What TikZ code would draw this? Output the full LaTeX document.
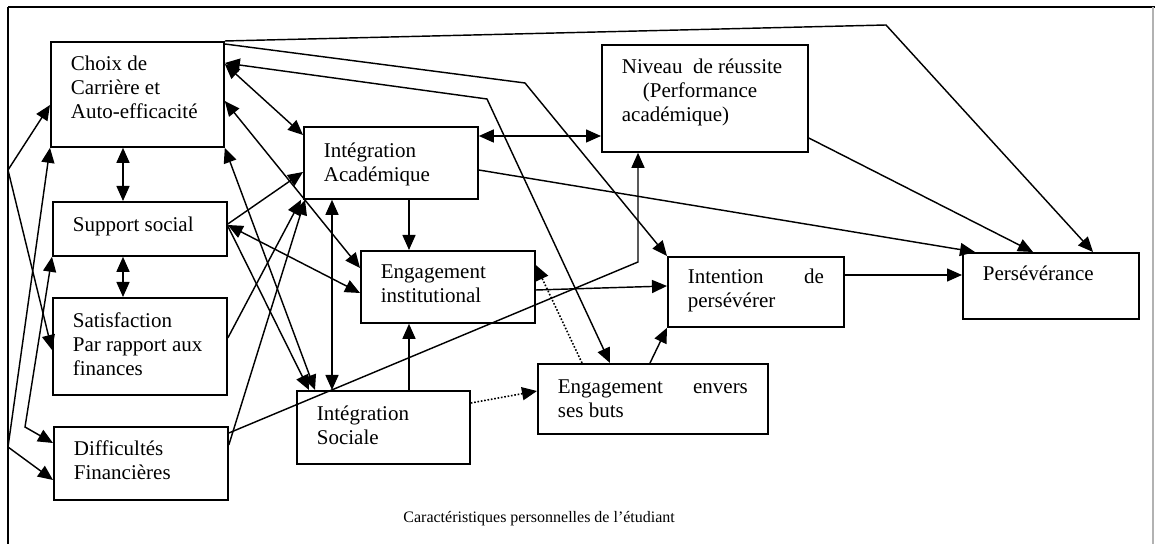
\documentclass[tikz,border=0pt]{standalone}
\usepackage{fontspec}
\setmainfont{Liberation Serif}
\usetikzlibrary{arrows.meta,calc}

% box text: #1 box height, #2 text width, #3 top-to-first-baseline (all in px = 0.5pt), #4 lines
\newcommand\bt[4]{\parbox[c][\dimexpr#1pt/2\relax][t]{\dimexpr#2pt/2\relax}{\raggedright\rule{0pt}{\dimexpr#3pt/2\relax}#4}}

\begin{document}
\begin{tikzpicture}[x=0.5pt,y=-0.5pt,
  >={Triangle[length=7.5pt,width=6.5pt]},
  box/.style={draw,line width=0.9pt,anchor=north west,inner xsep=10pt,inner ysep=0pt,
    font=\fontsize{10.5}{12}\selectfont},
  link/.style={line width=0.72pt},
  dots/.style={line width=0.8pt,dash pattern=on 0.8pt off 0.9pt}]
\useasboundingbox (0,0) rectangle (1155,544);
\fill[white] (0,0) rectangle (1155,544);

% frame
\draw[line width=1pt] (1155,7) -- (8,7);
\draw[line width=0.75pt] (8,7) -- (8,544);
\draw[gray!60,line width=0.6pt] (1153,7) -- (1153,544);

% boxes
\node[box] (choix)   at (50,41)   {\bt{105}{133}{29}{Choix de\\Carrière et\\Auto-efficacité}};
\node[box] (support) at (52,201)  {\bt{54}{134}{30}{Support social}};
\node[box] (satis)   at (52,297)  {\bt{97}{134}{30}{Satisfaction\\Par rapport aux\\finances}};
\node[box] (diff)    at (53,426)  {\bt{73}{134}{29}{Difficultés\\Financières}};
\node[box] (ia)      at (303,126) {\bt{72}{134}{31}{Intégration\\Académique}};
\node[box] (ei)      at (360,250) {\bt{72}{134}{28}{Engagement\\institutional}};
\node[box] (is)      at (296,390) {\bt{73}{133}{30}{Intégration\\Sociale}};
\node[box] (niv)     at (601,44)  {\bt{107}{166}{29}{Niveau\ \ de réussite\\\hspace*{10.5pt}(Performance\\académique)}};
\node[box] (intent)  at (667,256) {\bt{70}{136}{27}{Intention\hfill de\\persévérer}};
\node[box] (eeb)     at (537,363) {\bt{70}{190}{30}{Engagement\hfill envers\\ses buts}};
\node[box] (pers)    at (962,252) {\bt{66}{136}{28}{Persévérance}};

\node[anchor=base west,font=\fontsize{8}{9.6}\selectfont,inner sep=0pt] (cap) at (403,522)
  {Caractéristiques personnelles de l’étudiant};

% bend points
\coordinate (lb1) at (8,170);
\coordinate (lb2) at (8,447);
\coordinate (lb3) at (25,427);
\coordinate (b1) at (886,25);
\coordinate (b2) at (525,83);
\coordinate (b3) at (487,99);
\coordinate (b4) at (638,262);

% left column
\draw[link,<->] ($(choix.south west)+(73,0)$) -- ($(support.north west)+(71,0)$);
\draw[link,<->] ($(support.south west)+(71,0)$) -- ($(satis.north west)+(71,0)$);
\draw[link,->] (lb1) -- ($(choix.north west)+(0,64)$);
\draw[link,->] (lb1) -- ($(satis.north west)+(0,53)$);
\draw[link,->] (lb2) -- (choix.south west);
\draw[link,->] (lb2) -- ($(diff.north west)+(0,54)$);
\draw[link,<->] (support.south west) -- (lb3) -- ($(diff.north west)+(0,17)$);

% from Choix de carrière
\draw[link,->] (choix.north east) -- (b1) -- ($(pers.north west)+(131,0)$);
\draw[link,->] ($(choix.north east)+(0,3)$) -- (b2) -- (intent.north west);
\draw[link,<->] ($(choix.north east)+(0,22)$) -- (b3) -- ($(eeb.north west)+(73,0)$);
\draw[link,<->] ($(choix.north east)+(0,23)$) -- ($(ia.north west)+(0,9)$);
\draw[link,<->] ($(choix.north east)+(0,60)$) -- ($(ei.north west)+(0,18)$);
\draw[link,<->] (choix.south east) -- ($(is.north west)+(19,0)$);

% from Support social, Satisfaction, Difficultés
\draw[link,<->] ($(support.north east)+(0,24)$) -- ($(ei.north west)+(0,43)$);
\draw[link,->] ($(support.north east)+(0,23)$) -- ($(ia.north west)+(0,46)$);
\draw[link,->] ($(support.north east)+(0,25)$) -- ($(is.north west)+(13,0)$);
\draw[link,->] ($(satis.north east)+(0,41)$) -- ($(ia.south west)+(-2,0)$);
\draw[link,->] ($(diff.north east)+(0,19)$) -- ($(ia.south west)+(2,0)$);
\draw[link,->] ($(diff.north east)+(0,7)$) -- (b4) -- ($(niv.south west)+(37,0)$);

% middle
\draw[link,->] ($(ia.south west)+(106,0)$) -- ($(ei.north west)+(49,0)$);
\draw[link,<->] ($(ia.south west)+(29,0)$) -- ($(is.north west)+(36,0)$);
\draw[link,->] ($(is.north west)+(113,0)$) -- ($(ei.south west)+(49,0)$);
\draw[dots,->] ($(is.north east)+(0,13)$) -- ($(eeb.north west)+(0,28)$);
\draw[dots,->] ($(eeb.north west)+(45,0)$) -- ($(ei.north east)+(0,15)$);
\draw[link,->] ($(ei.north east)+(0,40)$) -- ($(intent.north west)+(0,30)$);
\draw[link,->] ($(eeb.north west)+(113,0)$) -- (intent.south west);

% right side
\draw[link,<->] ($(ia.north east)+(0,10)$) -- ($(niv.north west)+(0,92)$);
\draw[link,->] ($(ia.north east)+(0,44)$) -- ($(pers.north west)+(13,0)$);
\draw[link,->] ($(niv.north east)+(0,94)$) -- ($(pers.north west)+(71,0)$);
\draw[link,->] ($(intent.north east)+(0,19)$) -- ($(pers.north west)+(0,23)$);
\end{tikzpicture}
\end{document}
